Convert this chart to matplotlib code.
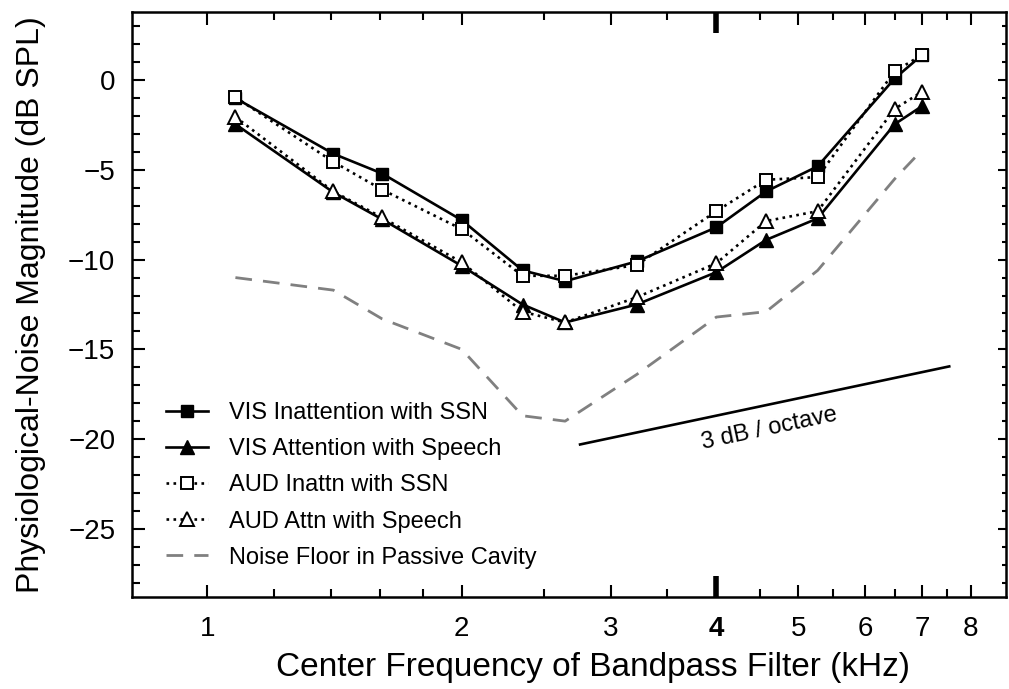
import matplotlib.pyplot as plt
from matplotlib.ticker import FixedLocator, NullFormatter, FixedFormatter

# --- Data ---
freq_khz = [1.08, 1.41, 1.61, 2.0, 2.36, 2.65, 3.22, 4.0, 4.58, 5.27, 6.5, 7.0]

vis_inatt_ssn = [-1.0, -4.1, -5.2, -7.8, -10.6, -11.2, -10.1, -8.2, -6.2, -4.8, 0.1, 1.4]
vis_att_speech = [-2.45, -6.25, -7.75, -10.35, -12.5, -13.5, -12.5, -10.7, -8.9, -7.7, -2.45, -1.45]
aud_inatt_ssn = [-0.95, -4.55, -6.1, -8.3, -10.9, -10.9, -10.3, -7.3, -5.55, -5.4, 0.5, 1.4]
aud_att_speech = [-2.05, -6.2, -7.65, -10.15, -12.9, -13.5, -12.1, -10.2, -7.85, -7.3, -1.6, -0.65]
noise_floor = [-11.0, -11.7, -13.3, -15.0, -18.7, -19.0, -16.4, -13.2, -12.9, -10.6, -5.5, -3.9]

# reference slope line: 3 dB per octave
slope_f = [2.76, 7.54]
slope_db = [-20.3, -15.95]

x_major = [1, 2, 3, 4, 5, 6, 7, 8]
x_minor = [1.2, 1.4, 1.6, 1.8, 2.5, 3.5, 4.5, 5.5, 6.5, 7.5]
y_major = [-25, -20, -15, -10, -5, 0]
# ---------------------------------------------

plt.rcParams['font.family'] = ['Liberation Sans', 'DejaVu Sans']

fig = plt.figure(figsize=(10.09, 6.89), dpi=100)
ax = fig.add_axes([132 / 1009, 1 - 597 / 689, 874 / 1009, 585 / 689])

lw = 1.9
ax.plot(freq_khz, vis_inatt_ssn, '-', color='black', lw=lw, marker='s', ms=8,
        mfc='black', mec='black', label='VIS Inattention with SSN')
ax.plot(freq_khz, vis_att_speech, '-', color='black', lw=lw, marker='^', ms=9.5,
        mfc='black', mec='black', label='VIS Attention with Speech')
ax.plot(freq_khz, aud_inatt_ssn, ':', color='black', lw=lw, marker='s', ms=8,
        mfc='white', mec='black', mew=1.4, label='AUD Inattn with SSN')
ax.plot(freq_khz, aud_att_speech, ':', color='black', lw=lw, marker='^', ms=9.5,
        mfc='white', mec='black', mew=1.4, label='AUD Attn with Speech')
ax.plot(freq_khz, noise_floor, '--', color='#808080', lw=2.0, dashes=(6, 4),
        label='Noise Floor in Passive Cavity')

ax.plot(slope_f, slope_db, '-', color='black', lw=1.9)
ax.text(4.62, -19.4, '3 dB / octave', fontsize=17, rotation=12,
        ha='center', va='center')

ax.set_xscale('log')
ax.set_xlim(0.815, 8.8)
ax.set_ylim(-28.8, 3.8)

ax.xaxis.set_major_locator(FixedLocator(x_major))
ax.xaxis.set_major_formatter(FixedFormatter([str(v) for v in x_major]))
ax.xaxis.set_minor_locator(FixedLocator(x_minor))
ax.xaxis.set_minor_formatter(NullFormatter())
ax.yaxis.set_major_locator(FixedLocator(y_major))
ax.yaxis.set_minor_locator(FixedLocator(list(range(-28, 4))))

ax.tick_params(which='both', direction='in', top=True, right=True, width=1.5)
ax.tick_params(which='major', length=9, labelsize=20)
ax.tick_params(which='minor', length=6)
ax.tick_params(axis='x', which='major', pad=14)
ax.tick_params(axis='y', which='major', pad=12)

# the 4 kHz tick is drawn heavier in the original
for tick, loc in zip(ax.xaxis.get_major_ticks(), x_major):
    if loc == 4:
        for ln in (tick.tick1line, tick.tick2line):
            ln.set_markersize(15)
            ln.set_markeredgewidth(4)
        tick.label1.set_fontweight('bold')

# right-hand ticks are short stubs in the original
for tick in ax.yaxis.get_major_ticks():
    tick.tick2line.set_markersize(6)
for tick in ax.yaxis.get_minor_ticks():
    tick.tick2line.set_markersize(3)

for sp in ax.spines.values():
    sp.set_linewidth(1.8)

ax.set_xlabel('Center Frequency of Bandpass Filter (kHz)', fontsize=24)
ax.xaxis.set_label_coords(0.527, -0.094)
ax.set_ylabel('Physiological-Noise Magnitude (dB SPL)', fontsize=23, labelpad=16)

ax.legend(loc='lower left', bbox_to_anchor=(0.015, 0.012), frameon=False,
          fontsize=17, handlelength=1.75, handletextpad=0.9,
          labelspacing=0.6)

fig.savefig('out.png', dpi=100)
